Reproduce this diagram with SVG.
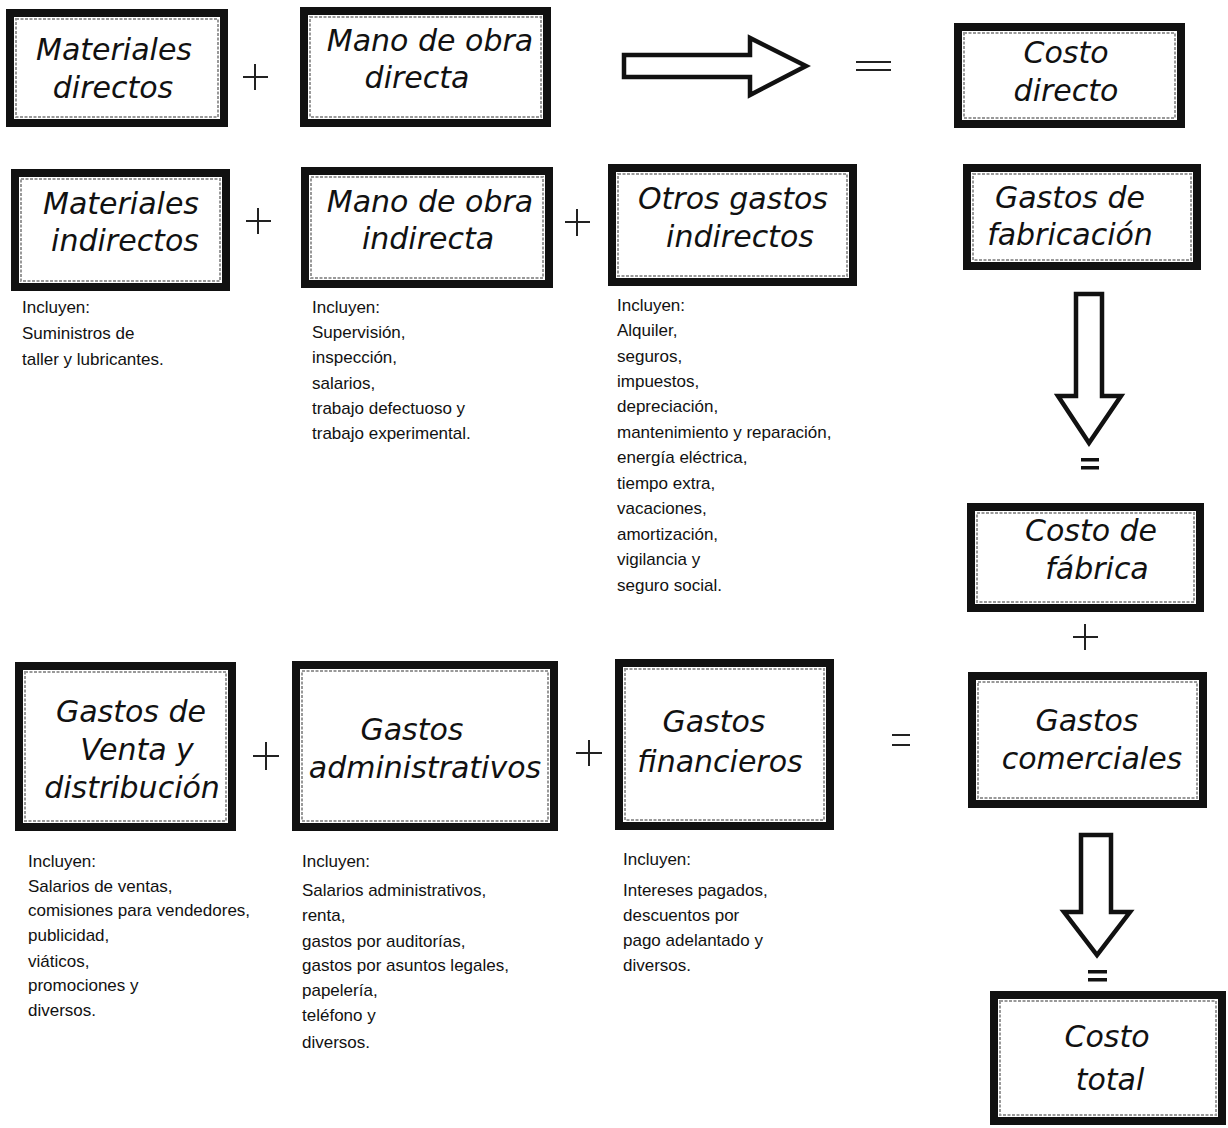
<svg xmlns="http://www.w3.org/2000/svg" width="1228" height="1128" viewBox="0 0 1228 1128">
<style>
.box{fill:#fff;stroke:#111;stroke-width:8}
.inner{fill:none;stroke:#999;stroke-width:2;stroke-dasharray:3 1.5}
.lbl{font-family:"DejaVu Sans","Open Sans",sans-serif;font-style:italic;font-size:30px;fill:#111;text-anchor:middle}
.note{font-family:"Liberation Sans",Arial,sans-serif;font-size:17px;fill:#111}
.op{stroke:#222;stroke-width:2;fill:none}
.arr{fill:#fff;stroke:#111;stroke-width:4.5;stroke-linejoin:miter}
</style>
<rect width="1228" height="1128" fill="#fff"/>

<g id="n-materiales-directos">
<rect class="box" x="10" y="13" width="214" height="110"/><rect class="inner" x="16" y="19" width="202" height="98"/>
<text class="lbl" x="114" y="60">Materiales</text><text class="lbl" x="113" y="98">directos</text>
</g>
<g id="n-mano-obra-directa">
<rect class="box" x="304" y="11" width="243" height="112"/><rect class="inner" x="310" y="17" width="231" height="100"/>
<text class="lbl" x="430" y="51">Mano de obra</text><text class="lbl" x="417" y="88">directa</text>
</g>
<g id="n-costo-directo">
<rect class="box" x="958" y="27" width="223" height="97"/><rect class="inner" x="964" y="33" width="211" height="85"/>
<text class="lbl" x="1066" y="63">Costo</text><text class="lbl" x="1066" y="101">directo</text>
</g>

<g id="n-materiales-indirectos">
<rect class="box" x="15" y="173" width="211" height="114"/><rect class="inner" x="21" y="179" width="199" height="102"/>
<text class="lbl" x="121" y="214">Materiales</text><text class="lbl" x="125" y="251">indirectos</text>
</g>
<g id="n-mano-obra-indirecta">
<rect class="box" x="305" y="171" width="244" height="113"/><rect class="inner" x="311" y="177" width="232" height="101"/>
<text class="lbl" x="430" y="212">Mano de obra</text><text class="lbl" x="428" y="249">indirecta</text>
</g>
<g id="n-otros-gastos-indirectos">
<rect class="box" x="612" y="168" width="241" height="114"/><rect class="inner" x="618" y="174" width="229" height="102"/>
<text class="lbl" x="733" y="209">Otros gastos</text><text class="lbl" x="740" y="247">indirectos</text>
</g>
<g id="n-gastos-fabricacion">
<rect class="box" x="967" y="168" width="230" height="98"/><rect class="inner" x="973" y="174" width="218" height="86"/>
<text class="lbl" x="1070" y="208">Gastos de</text><text class="lbl" x="1070" y="245">fabricación</text>
</g>
<g id="n-costo-fabrica">
<rect class="box" x="971" y="507" width="229" height="101"/><rect class="inner" x="977" y="513" width="217" height="89"/>
<text class="lbl" x="1091" y="541">Costo de</text><text class="lbl" x="1097" y="579">fábrica</text>
</g>
<g id="n-gastos-comerciales">
<rect class="box" x="972" y="676" width="231" height="128"/><rect class="inner" x="978" y="682" width="219" height="116"/>
<text class="lbl" x="1087" y="731">Gastos</text><text class="lbl" x="1092" y="769">comerciales</text>
</g>
<g id="n-costo-total">
<rect class="box" x="994" y="995" width="228" height="126"/><rect class="inner" x="1000" y="1001" width="216" height="114"/>
<text class="lbl" x="1107" y="1047">Costo</text><text class="lbl" x="1110" y="1090">total</text>
</g>

<g id="n-gastos-venta">
<rect class="box" x="19" y="666" width="213" height="161"/><rect class="inner" x="25" y="672" width="201" height="149"/>
<text class="lbl" x="131" y="722">Gastos de</text><text class="lbl" x="137" y="760">Venta y</text><text class="lbl" x="132" y="798">distribución</text>
</g>
<g id="n-gastos-administrativos">
<rect class="box" x="296" y="665" width="258" height="162"/><rect class="inner" x="302" y="671" width="246" height="150"/>
<text class="lbl" x="412" y="740">Gastos</text><text class="lbl" x="425" y="778">administrativos</text>
</g>
<g id="n-gastos-financieros">
<rect class="box" x="619" y="663" width="211" height="163"/><rect class="inner" x="625" y="669" width="199" height="151"/>
<text class="lbl" x="714" y="732">Gastos</text><text class="lbl" x="720" y="772">financieros</text>
</g>

<g id="connectors">
<path class="arr" d="M624,55 H750 V38 L806,66 L750,95 V77 H624 Z"/>
<path class="arr" d="M1076,294 H1102 V396 H1121 L1089,443 L1058,396 H1076 Z"/>
<path class="arr" d="M1081,835 H1111 V912 H1130 L1097,955 L1064,912 H1081 Z"/>
<g class="op">
<path d="M243,77 H268 M255,64 V90"/>
<path d="M856,62 H891 M856,70 H891"/>
<path d="M246,221 H271 M258,208 V234"/>
<path d="M565,222 H590 M577,209 V236"/>
<path d="M1073,637 H1098 M1085,624 V650"/>
<path d="M253,756 H279 M266,742 V770"/>
<path d="M576,753 H602 M589,740 V766"/>
<path d="M892,735 H910 M892,745 H910"/>
</g>
<g fill="#111">
<rect x="1081" y="458" width="18" height="3.5"/><rect x="1081" y="466" width="18" height="3.5"/>
<rect x="1088" y="970" width="19" height="3.5"/><rect x="1088" y="978" width="19" height="3.5"/>
</g>
</g>

<g id="notes" class="note">
<text x="22" y="313">Incluyen:</text>
<text x="22" y="339">Suministros de</text>
<text x="22" y="365">taller y  lubricantes.</text>

<text x="312" y="313">Incluyen:</text>
<text x="312" y="338">Supervisión,</text>
<text x="312" y="363">inspección,</text>
<text x="312" y="389">salarios,</text>
<text x="312" y="414">trabajo defectuoso y</text>
<text x="312" y="439">trabajo experimental.</text>

<text x="617" y="311">Incluyen:</text>
<text x="617" y="336">Alquiler,</text>
<text x="617" y="362">seguros,</text>
<text x="617" y="387">impuestos,</text>
<text x="617" y="412">depreciación,</text>
<text x="617" y="438">mantenimiento y reparación,</text>
<text x="617" y="463">energía eléctrica,</text>
<text x="617" y="489">tiempo extra,</text>
<text x="617" y="514">vacaciones,</text>
<text x="617" y="540">amortización,</text>
<text x="617" y="565">vigilancia y</text>
<text x="617" y="591">seguro social.</text>

<text x="28" y="867">Incluyen:</text>
<text x="28" y="892">Salarios de ventas,</text>
<text x="28" y="916">comisiones para vendedores,</text>
<text x="28" y="941">publicidad,</text>
<text x="28" y="967">viáticos,</text>
<text x="28" y="991">promociones y</text>
<text x="28" y="1016">diversos.</text>

<text x="302" y="867">Incluyen:</text>
<text x="302" y="896">Salarios administrativos,</text>
<text x="302" y="921">renta,</text>
<text x="302" y="947">gastos por auditorías,</text>
<text x="302" y="971">gastos por asuntos legales,</text>
<text x="302" y="996">papelería,</text>
<text x="302" y="1021">teléfono y</text>
<text x="302" y="1048">diversos.</text>

<text x="623" y="865">Incluyen:</text>
<text x="623" y="896">Intereses pagados,</text>
<text x="623" y="921">descuentos por</text>
<text x="623" y="946">pago adelantado y</text>
<text x="623" y="971">diversos.</text>
</g>
</svg>
